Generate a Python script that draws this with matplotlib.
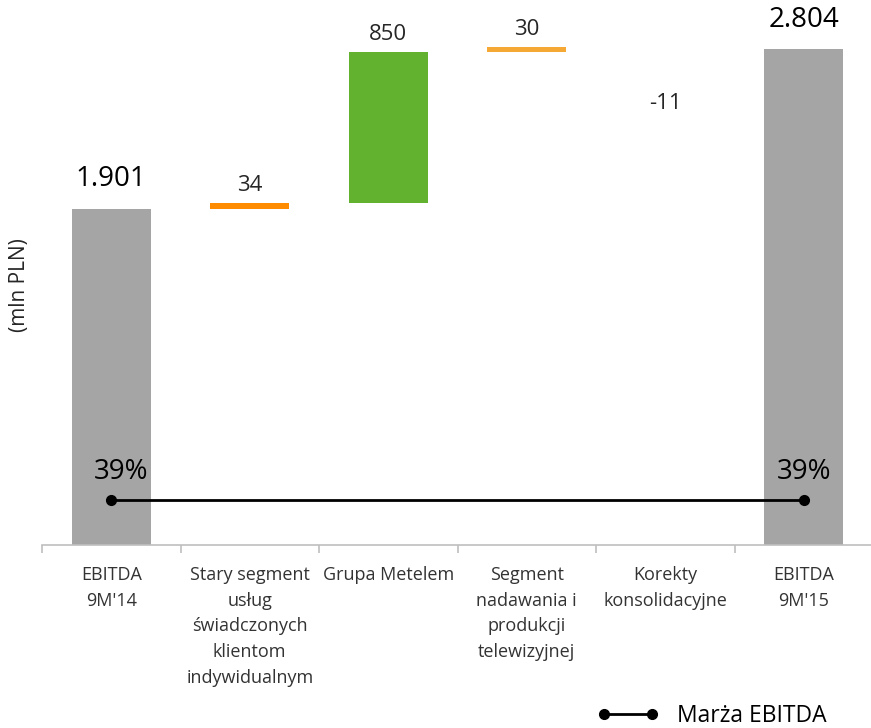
import numpy as np
import matplotlib
matplotlib.use("Agg")
import matplotlib.pyplot as plt

plt.rcParams["font.family"] = ["Open Sans", "DejaVu Sans"]

# ── data ─────────────────────────────────────────────────────────────────────
categories = ["EBITDA\n9M'14",
              "Stary segment\nusług\nświadczonych\nklientom\nindywidualnym",
              "Grupa Metelem",
              "Segment\nnadawania i\nprodukcji\ntelewizyjnej",
              "Korekty\nkonsolidacyjne",
              "EBITDA\n9M'15"]
start_total = 1901
deltas = [34, 850, 30, -11]
end_total = 2804
margin_pct = [39, 39]          # Marża EBITDA, first and last bar
margin_labels = ["39%", "39%"]

colors = ["#A5A5A5", "#FF8C00", "#63B22F", "#F5A833", "none", "#A5A5A5"]

# waterfall geometry
bottoms = [0]
heights = [start_total]
level = start_total
for d in deltas:
    bottoms.append(min(level, level + d))
    heights.append(abs(d))
    level += d
bottoms.append(0)
heights.append(end_total)
values = [start_total] + deltas + [end_total]

x = np.arange(len(categories))

fig = plt.figure(figsize=(8.71, 7.28), dpi=100)
ax = fig.add_axes([42 / 871, 183 / 728, 831 / 871, 545 / 728])
ax.bar(x, heights, bottom=bottoms, width=0.57, color=colors, zorder=2)

ax.set_xlim(-0.5, len(categories) - 0.5)
ax.set_ylim(0, 3080)

for sp in ["top", "right", "left"]:
    ax.spines[sp].set_visible(False)
ax.spines["bottom"].set_color("#BFBFBF")
ax.spines["bottom"].set_linewidth(1.2)
ax.set_yticks([])
ax.set_xticks(x)
ax.set_xticklabels(categories, fontsize=13, color="#333333", linespacing=1.55,
                   va="top")
ax.tick_params(axis="x", which="major", length=0, pad=15)
ax.set_xticks(np.arange(-0.5, len(categories) + 0.5, 1), minor=True)
ax.tick_params(axis="x", which="minor", length=6, color="#BFBFBF", width=1.2)
fig.text(20 / 871, (728 - 285) / 728, "(mln PLN)", rotation=90, fontsize=15,
         color="#262626", ha="center", va="center")

def fmt(v):
    return f"{v:,}".replace(",", ".")

for i, v in enumerate(values):
    top = bottoms[i] + heights[i]
    if i in (0, len(values) - 1):
        ax.annotate(fmt(v), (x[i], top), xytext=(0, 11), textcoords="offset points",
                    ha="center", va="bottom", fontsize=20, color="black")
    elif v < 0:
        ax.annotate(f"{v}", (x[i], bottoms[i]), xytext=(0, -39),
                    textcoords="offset points", ha="center", va="center",
                    fontsize=16, color="#262626")
    else:
        ax.annotate(fmt(v), (x[i], top), xytext=(0, 5), textcoords="offset points",
                    ha="center", va="bottom", fontsize=16, color="#262626")

# margin line on a secondary scale
ax2 = ax.twinx()
ax2.set_ylim(35, 83.4)
ax2.axis("off")
mx = [x[0], x[-1]]
ln, = ax2.plot(mx, margin_pct, color="black", lw=2, marker="o", ms=7,
               label="Marża EBITDA", zorder=3)
for xi, m, lab, dx in zip(mx, margin_pct, margin_labels, (7, 0)):
    ax2.annotate(lab, (xi, m), xytext=(dx, 10), textcoords="offset points",
                 ha="center", va="bottom", fontsize=20, color="black")

fig.legend(handles=[ln], loc="center left", bbox_to_anchor=(597 / 871, 12 / 728),
           frameon=False, fontsize=16.5, numpoints=2, handlelength=2.7,
           handletextpad=0.8, borderpad=0, borderaxespad=0)

fig.savefig("out.png", dpi=100)
